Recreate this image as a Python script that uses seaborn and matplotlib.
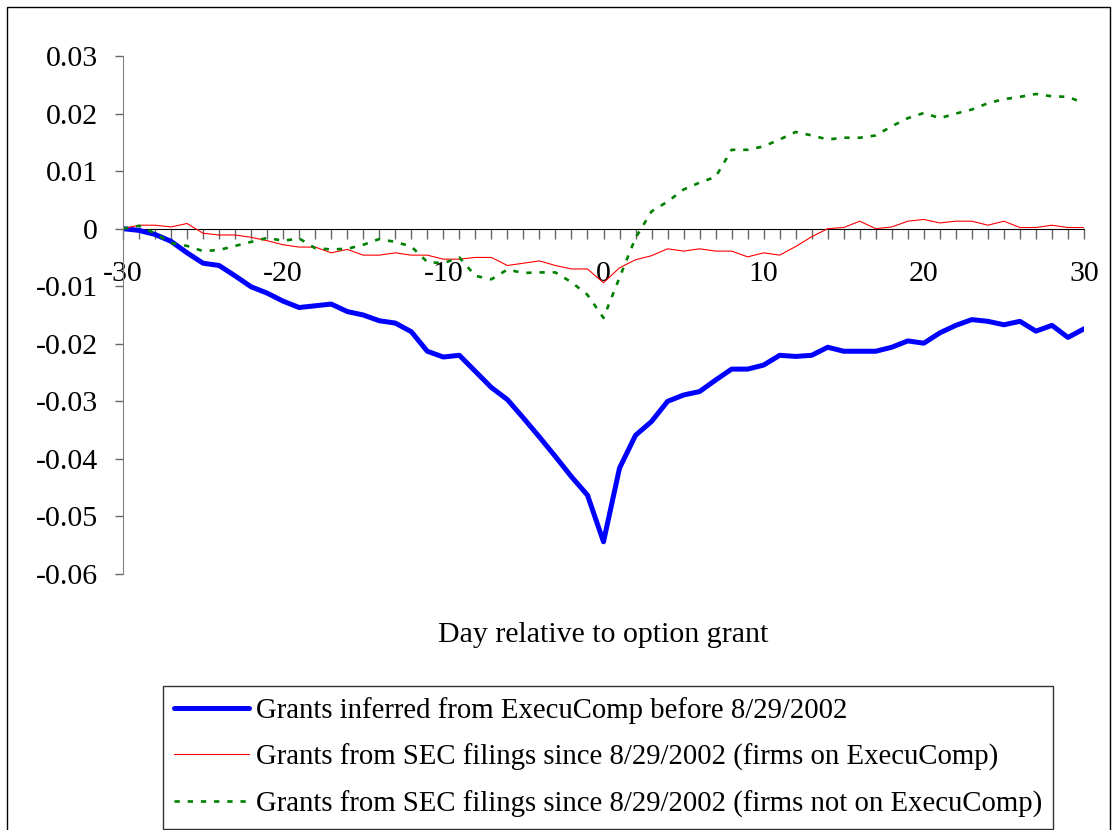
#Event-time returns around option grant dates

import matplotlib
matplotlib.use('Agg')
import matplotlib.pyplot as plt
import seaborn as sns
import pandas as pd

days = list(range(-30, 31))

execucomp_before = [0, -0.0003, -0.001, -0.0022, -0.0042, -0.006, -0.0064, -0.0082, -0.0101, -0.0112,
                    -0.0126, -0.0137, -0.0134, -0.0131, -0.0144, -0.015, -0.016, -0.0164, -0.0179, -0.0213,
                    -0.0223, -0.022, -0.0248, -0.0276, -0.0297, -0.0329, -0.0362, -0.0396, -0.0431, -0.0463,
                    -0.0544,
                    -0.0416, -0.0359, -0.0335, -0.030, -0.0289, -0.0283, -0.0263, -0.0244, -0.0244, -0.0237,
                    -0.022, -0.0222, -0.022, -0.0206, -0.0213, -0.0213, -0.0213, -0.0206, -0.0195, -0.0199,
                    -0.0181, -0.0168, -0.0158, -0.0161, -0.0167, -0.0161, -0.0178, -0.0168, -0.0189, -0.0174]

sec_on_execucomp = [0, 0.0006, 0.0006, 0.0003, 0.0009, -0.0008, -0.0011, -0.0011, -0.0015, -0.0021,
                    -0.0028, -0.0032, -0.0032, -0.0042, -0.0036, -0.0046, -0.0046, -0.0042, -0.0046, -0.0046,
                    -0.0053, -0.0053, -0.005, -0.005, -0.0064, -0.006, -0.0056, -0.0064, -0.007, -0.007,
                    -0.0094,
                    -0.0068, -0.0054, -0.0047, -0.0035, -0.0039, -0.0035, -0.0039, -0.0039, -0.0049, -0.0042,
                    -0.0046, -0.0031, -0.0014, 0, 0.0002, 0.0013, 0, 0.0003, 0.0013, 0.0016,
                    0.001, 0.0013, 0.0013, 0.0006, 0.0013, 0.0002, 0.0002, 0.0006, 0.0002, 0.0002]

sec_not_on_execucomp = [0, 0.0005, -0.0008, -0.0025, -0.003, -0.0039, -0.0037, -0.003, -0.0023, -0.0016,
                        -0.0021, -0.0017, -0.0034, -0.0036, -0.0035, -0.0028, -0.0018, -0.0023, -0.0031, -0.0058,
                        -0.006, -0.005, -0.0082, -0.0088, -0.0071, -0.0077, -0.0076, -0.0076, -0.0093, -0.0115,
                        -0.0155,
                        -0.0085, -0.0016, 0.003, 0.0047, 0.0068, 0.008, 0.009, 0.0137, 0.0137, 0.0143,
                        0.0155, 0.0168, 0.0162, 0.0155, 0.0158, 0.0158, 0.0162, 0.0178, 0.0192, 0.0201,
                        0.0192, 0.02, 0.0207, 0.0218, 0.0225, 0.0229, 0.0234, 0.023, 0.0229, 0.0218]

labels = ['Grants inferred from ExecuComp before 8/29/2002',
          'Grants from SEC filings since 8/29/2002 (firms on ExecuComp)',
          'Grants from SEC filings since 8/29/2002 (firms not on ExecuComp)']

y_ticks = [0.03, 0.02, 0.01, 0, -0.01, -0.02, -0.03, -0.04, -0.05, -0.06]
y_tick_labels = ['0.03', '0.02', '0.01', '0', '-0.01', '-0.02', '-0.03', '-0.04', '-0.05', '-0.06']
x_labelled = [-30, -20, -10, 0, 10, 20, 30]

df = pd.DataFrame({'day': days, 'a': execucomp_before, 'b': sec_on_execucomp, 'c': sec_not_on_execucomp})

sns.set_style('white')
plt.rcParams['font.family'] = ['Liberation Serif', 'DejaVu Serif']
plt.rcParams['axes.unicode_minus'] = False
plt.rcParams['text.color'] = 'black'
plt.rcParams['xtick.color'] = 'black'
plt.rcParams['ytick.color'] = 'black'

fig = plt.figure(figsize=(11.16, 8.30), dpi=100)
ax = fig.add_axes([123 / 1116, 1 - 574 / 830, 961 / 1116, 518 / 830])

sns.lineplot(data=df, x='day', y='a', color='#0000FF', linewidth=3.6, label=labels[0], ax=ax)
sns.lineplot(data=df, x='day', y='b', color='#FF0000', linewidth=0.8, label=labels[1], ax=ax)
sns.lineplot(data=df, x='day', y='c', color='#008000', linewidth=1.9, linestyle=(0, (2, 3)),
             label=labels[2], ax=ax)

ax.set_xlim(-30, 30)
ax.set_ylim(-0.06, 0.03)
ax.set_yticks(y_ticks)
ax.set_yticklabels(y_tick_labels)
ax.set_xticks(days)
ax.set_xticklabels([str(d) if d in x_labelled else '' for d in days])

ax.spines['top'].set_visible(False)
ax.spines['right'].set_visible(False)
ax.spines['bottom'].set_position(('data', 0))
ax.spines['bottom'].set_color('black')
ax.spines['bottom'].set_zorder(1)
ax.spines['left'].set_color('#808080')
ax.tick_params(axis='x', bottom=True, direction='out', length=7, width=1, color='#666666',
               labelcolor='black', pad=16, labelsize=21.5)
ax.tick_params(axis='y', left=True, direction='out', length=6, width=1, color='#666666',
               labelcolor='black', pad=12, labelsize=21.5)
ax.set_xlabel('')
ax.set_ylabel('')
ax.text(0.5, -0.118, 'Day relative to option grant', transform=ax.transAxes,
        ha='center', va='center', fontsize=21.5, color='black')

ax.get_legend().remove()
handles, _ = ax.get_legend_handles_labels()
leg = fig.legend(handles, labels, loc='upper left', bbox_to_anchor=(163 / 1116, 1 - 686 / 830),
                 fontsize=20.7, frameon=True, fancybox=False, handlelength=2.6, handletextpad=0.25,
                 labelspacing=0.68, borderpad=0.38, borderaxespad=0)
leg.get_frame().set_edgecolor('black')
leg.get_frame().set_linewidth(1.0)

# outer chart frame
fig.add_artist(plt.Rectangle((7 / 1116, -0.05), 1103 / 1116, 1 - 7 / 830 + 0.05,
                             transform=fig.transFigure, fill=False, edgecolor='black', linewidth=1.0))

fig.savefig('out.png', dpi=100)
